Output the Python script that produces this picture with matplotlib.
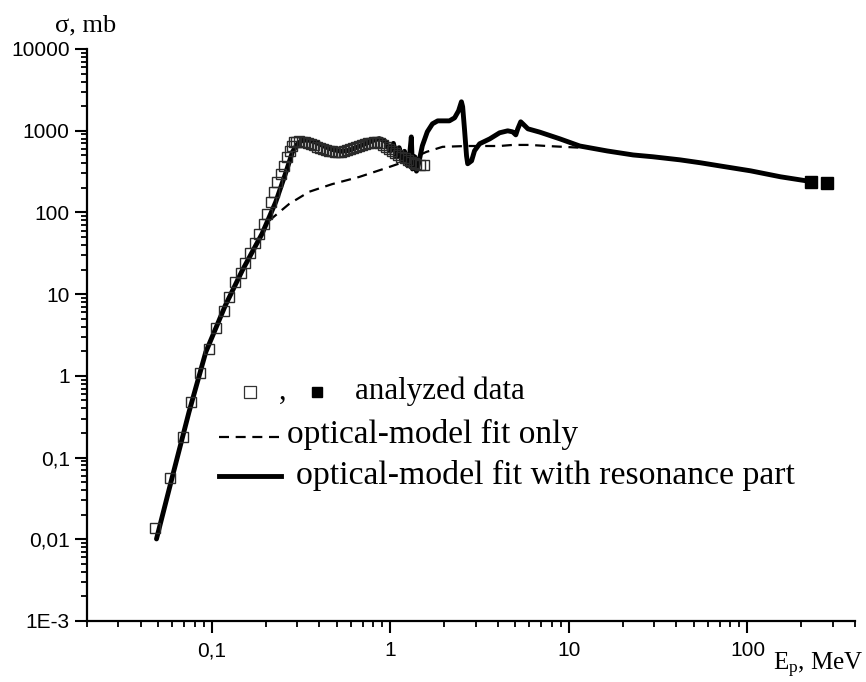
import matplotlib
matplotlib.use('Agg')
import matplotlib.pyplot as plt
from matplotlib.ticker import FixedLocator, FixedFormatter, LogLocator, NullFormatter
import numpy as np

# ---------------- data ----------------
open_E = [0.0478, 0.0586, 0.0690, 0.0769, 0.0857, 0.0962, 0.1057, 0.1167, 0.1246, 0.1347,
          0.1449, 0.1532, 0.1629, 0.1738, 0.1837, 0.196, 0.2046, 0.2137, 0.2231, 0.2328,
          0.2432, 0.2538, 0.265, 0.2733, 0.2826, 0.2895,
          0.296, 0.308, 0.320, 0.333, 0.346, 0.360, 0.374, 0.389, 0.404, 0.420,
          0.437, 0.454, 0.472, 0.490, 0.510, 0.530, 0.551, 0.573, 0.596, 0.620,
          0.644, 0.670, 0.696, 0.724, 0.752, 0.782, 0.813, 0.845, 0.879, 0.913,
          0.950, 0.987, 1.026, 1.067, 1.110, 1.150, 1.200, 1.250, 1.300, 1.350,
          1.400, 1.470, 1.550]
open_sigma = [0.0137, 0.056, 0.178, 0.476, 1.09, 2.14, 3.84, 6.3, 9.2, 14.0,
              18.2, 24.2, 32.0, 42.4, 54.7, 72.5, 96, 134, 177, 235,
              297, 375, 475, 572, 659, 725,
              730, 740, 735, 720, 700, 680, 660, 640, 620, 600,
              585, 570, 560, 550, 545, 550, 560, 575, 590, 610,
              630, 650, 670, 690, 705, 715, 720, 720, 700, 670,
              630, 590, 560, 530, 505, 480, 460, 440, 420, 405,
              395, 385, 380]

filled_E = [226, 278]
filled_sigma = [239, 232]

fit_res_E = [0.049, 0.0597, 0.0745, 0.0925, 0.119, 0.148, 0.191, 0.228, 0.26, 0.283,
             0.302, 0.32, 0.345, 0.384, 0.43, 0.472, 0.53, 0.589, 0.65, 0.733,
             0.80, 0.867, 0.92, 0.95, 0.98, 1.0, 1.04, 1.08, 1.12, 1.16,
             1.2, 1.24, 1.28, 1.30, 1.31, 1.33, 1.37, 1.40, 1.44, 1.51,
             1.61, 1.72, 1.84, 2.14, 2.29, 2.41, 2.5, 2.54, 2.6, 2.67,
             2.71, 2.85, 2.96, 3.16, 3.6, 4.09, 4.54, 4.84, 5.04, 5.17,
             5.37, 5.52, 5.89, 6.87, 8.9, 11.5, 16.4, 22.9, 29.5, 41.9,
             54.6, 70.5, 104, 153, 226]
fit_res_sigma = [0.0101, 0.055, 0.36, 1.95, 7.26, 19.4, 54.6, 134, 310, 550,
                 690, 760, 770, 720, 640, 590, 560, 575, 630, 700,
                 760, 800, 760, 720, 600, 560, 700, 480, 620, 420,
                 560, 380, 500, 700, 840, 340, 480, 320, 400, 653,
                 970, 1214, 1320, 1320, 1438, 1755, 2260, 1963, 1055, 493,
                 394, 428, 568, 692, 794, 943, 997, 968, 890, 1055,
                 1285, 1214, 1055, 960, 795, 650, 565, 505, 480, 440,
                 405, 370, 323, 273, 239]

fit_opt_E = [0.209, 0.271, 0.351, 0.472, 0.67, 0.95, 1.23, 1.59, 1.96, 2.67,
             4.09, 4.84, 6.04, 7.52, 11.5]
fit_opt_sigma = [79, 127, 179, 222, 272, 350, 425, 550, 635, 650,
                 650, 670, 670, 650, 620]

x_tick_values = [0.1, 1, 10, 100]
x_tick_labels = ['0,1', '1', '10', '100']
y_tick_values = [1e-3, 1e-2, 0.1, 1, 10, 100, 1000, 10000]
y_tick_labels = ['1E-3', '0,01', '0,1', '1', '10', '100', '1000', '10000']

legend_labels = ['analyzed data', 'optical-model fit only',
                 'optical-model fit with resonance part']

# ---------------- figure ----------------
plt.rcParams['mathtext.default'] = 'regular'
W, H = 866, 682
fig = plt.figure(figsize=(W / 100, H / 100), dpi=100)
L, R, B, T = 87, 855, 621, 49
ax = fig.add_axes([L / W, (H - B) / H, (R - L) / W, (B - T) / H])
ax.set_xscale('log')
ax.set_yscale('log')
ax.set_xlim(0.02, 400)
ax.set_ylim(1e-3, 1e4)

for s in ['top', 'right']:
    ax.spines[s].set_visible(False)
for s in ['left', 'bottom']:
    ax.spines[s].set_linewidth(1.6)

ax.xaxis.set_major_locator(FixedLocator(x_tick_values))
ax.xaxis.set_major_formatter(FixedFormatter(x_tick_labels))
ax.yaxis.set_major_locator(FixedLocator(y_tick_values))
ax.yaxis.set_major_formatter(FixedFormatter(y_tick_labels))
ax.xaxis.set_minor_locator(LogLocator(base=10, subs=np.arange(2, 10), numticks=100))
ax.yaxis.set_minor_locator(LogLocator(base=10, subs=np.arange(2, 10), numticks=100))
ax.xaxis.set_minor_formatter(NullFormatter())
ax.yaxis.set_minor_formatter(NullFormatter())
ax.tick_params(which='major', direction='out', length=8.5, width=1.5,
               labelsize=15, pad=4)
ax.tick_params(which='minor', direction='out', length=4.5, width=1.3)
ax.tick_params(axis='x', which='major', pad=6)
for lab in ax.get_xticklabels() + ax.get_yticklabels():
    lab.set_family('Liberation Sans')

# curves
ax.plot(fit_opt_E, fit_opt_sigma, color='black', lw=1.6, ls=(0, (4.5, 3)), zorder=2)
ax.plot(fit_res_E, fit_res_sigma, color='black', lw=3.5, zorder=3,
        solid_joinstyle='round', solid_capstyle='round')
ax.plot(open_E, open_sigma, ls='none', marker='s', ms=7.5, mfc='none',
        mec='#2a2a2a', mew=1.0, zorder=4)
ax.plot(filled_E, filled_sigma, ls='none', marker='s', ms=8, color='black', zorder=5)

# legend (manual)
def fx(px):
    return (px - L) / (R - L)

def fy(py):
    return (B - py) / (B - T)

serif = 'Liberation Serif'
ax.plot([fx(250)], [fy(392)], marker='s', ms=8, mfc='white', mec='#333333', mew=0.9,
        transform=ax.transAxes, clip_on=False)
ax.text(fx(279), fy(399), ',', transform=ax.transAxes, family=serif, size=22,
        va='baseline', ha='left')
ax.plot([fx(317)], [fy(392)], marker='s', ms=7, color='black',
        transform=ax.transAxes, clip_on=False)
ax.text(fx(355), fy(399), legend_labels[0], transform=ax.transAxes, family=serif,
        size=22.3, va='baseline', ha='left')

ax.plot([fx(219), fx(281)], [fy(437), fy(437)], color='black', lw=1.6,
        ls=(0, (4.5, 3)), transform=ax.transAxes, clip_on=False)
ax.text(fx(287), fy(443), legend_labels[1], transform=ax.transAxes, family=serif,
        size=24, va='baseline', ha='left')

ax.plot([fx(219), fx(281)], [fy(476), fy(476)], color='black', lw=3.5,
        transform=ax.transAxes, clip_on=False)
ax.text(fx(296), fy(484), legend_labels[2], transform=ax.transAxes, family=serif,
        size=24.3, va='baseline', ha='left')

# axis labels
fig.text(55 / W, 1 - 31 / H, 'σ, mb', family=serif, size=19, va='baseline', ha='left')
fig.text(773 / W, 1 - 670 / H, r'E$_p$, MeV', family=serif, size=18,
         va='baseline', ha='left')

fig.savefig('out.png', dpi=100)
